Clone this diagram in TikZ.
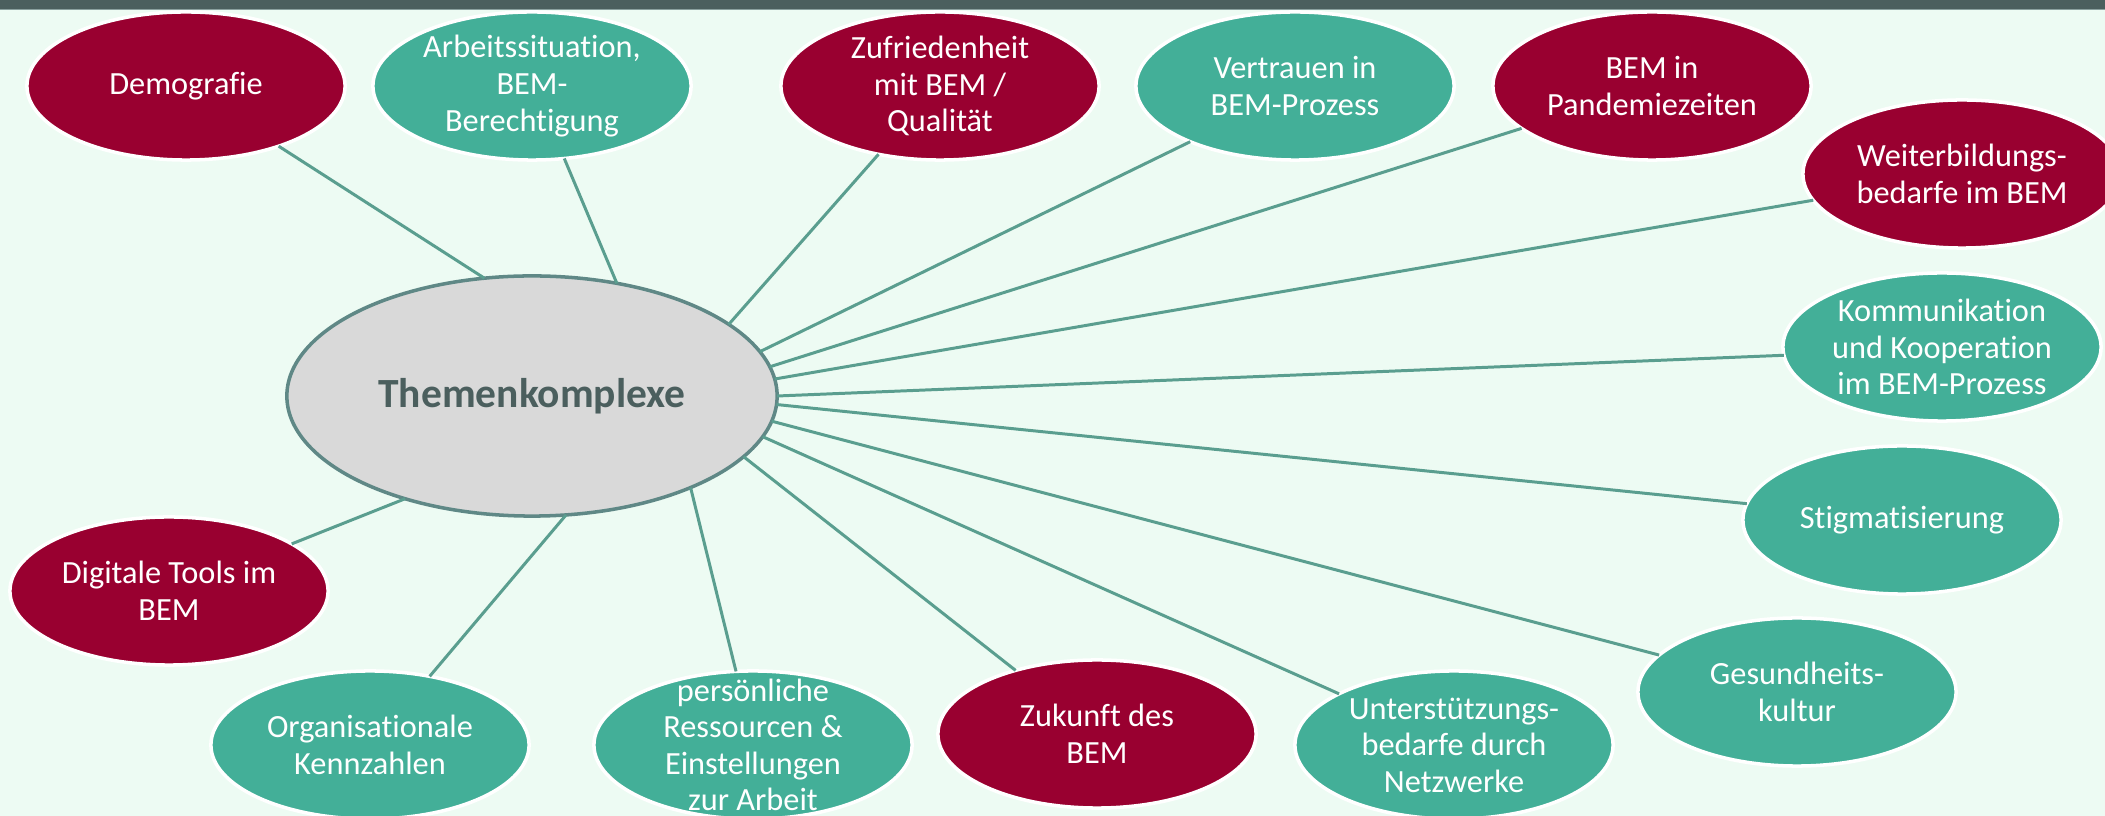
\documentclass[tikz,border=0pt]{standalone}
\usepackage{fontspec}
\setmainfont[Ligatures=NoCommon]{Carlito}
\usetikzlibrary{shapes.geometric}
\definecolor{crimsonc}{HTML}{990030}
\definecolor{tealc}{HTML}{43AF98}
\definecolor{bgc}{HTML}{EDFBF3}
\definecolor{barc}{HTML}{4B5F5E}
\definecolor{barline}{HTML}{8AA09E}
\definecolor{linec}{HTML}{5A9E8F}
\definecolor{centerfill}{HTML}{D9D9D9}
\definecolor{centerdraw}{HTML}{5F8886}
\definecolor{titlec}{HTML}{4B5F5E}
\begin{document}
\begin{tikzpicture}[x=0.01cm,y=-0.01cm,
  topic/.style={ellipse, minimum width=3.18cm, minimum height=1.48cm,
    inner xsep=0pt, inner ysep=-8pt, outer sep=0pt, draw=white, line width=1pt,
    text=white, align=center, font=\fontsize{9.2}{10.4}\selectfont},
  redtopic/.style={topic, fill=crimsonc},
  tealtopic/.style={topic, fill=tealc},
  hub/.style={ellipse, minimum width=4.9cm, minimum height=2.4cm, inner sep=0pt,
    outer sep=0pt, fill=centerfill, draw=centerdraw, line width=1pt, text=titlec,
    font=\fontsize{11.8}{13}\selectfont\bfseries},
  conn/.style={draw=linec, line width=0.85pt}]
\useasboundingbox (0,0) rectangle (2105,816);
\clip (0,0) rectangle (2105,816);
\fill[bgc] (0,0) rectangle (2105,816);
\fill[barc] (0,0) rectangle (2105,9);
\fill[barline] (0,9) rectangle (2105,10.5);

\node[hub] (main) at (532,396) {Themenkomplexe};

\node[redtopic]  (demo)  at (186,86)  {Demografie};
\node[tealtopic] (arb)   at (532,86)  {Arbeitssituation,\\BEM-\\Berechtigung};
\node[redtopic]  (zuf)   at (940,86)  {Zufriedenheit\\mit BEM /\\Qualität};
\node[tealtopic] (vert)  at (1295,86) {Vertrauen in\\BEM-Prozess};
\node[redtopic]  (pand)  at (1652,86) {BEM in\\Pandemiezeiten};
\node[redtopic]  (weit)  at (1962,174) {Weiterbildungs-\\bedarfe im BEM};
\node[tealtopic] (komm)  at (1942,347) {Kommunikation\\und Kooperation\\im BEM-Prozess};
\node[tealtopic] (stig)  at (1902,520) {Stigmatisierung};
\node[tealtopic] (ges)   at (1797,692) {Gesundheits-\\kultur};
\node[tealtopic] (unt)   at (1454,745) {Unterstützungs-\\bedarfe durch\\Netzwerke};
\node[redtopic]  (zuk)   at (1097,734) {Zukunft des\\BEM};
\node[tealtopic] (pers)  at (753,745) {persönliche\\Ressourcen \&\\Einstellungen\\zur Arbeit};
\node[tealtopic] (org)   at (370,745) {Organisationale\\Kennzahlen};
\node[redtopic]  (dig)   at (169,591) {Digitale Tools im\\BEM};

\draw[conn] (main.112.8) -- (demo.-33.1);
\draw[conn] (main.53.0) -- (arb.-66.5);
\draw[conn] (main.20.05) -- (zuf.-132.5);
\draw[conn] (main.11.36) -- (vert.-152.8);
\draw[conn] (main.7.9) -- (pand.-162.3);
\draw[conn] (main.4.24) -- (weit.-170.7);
\draw[conn] (main.0.93) -- (komm.-177.9);
\draw[conn] (main.-2.57) -- (stig.174.2);
\draw[conn] (main.-6.4) -- (ges.165.4);
\draw[conn] (main.-10.5) -- (unt.156.2);
\draw[conn] (main.-16.0) -- (zuk.142.3);
\draw[conn] (main.-30.2) -- (pers.103.3);
\draw[conn] (main.-74.1) -- (org.49.3);
\draw[conn] (main.219) -- (dig.21.3);
\end{tikzpicture}
\end{document}
